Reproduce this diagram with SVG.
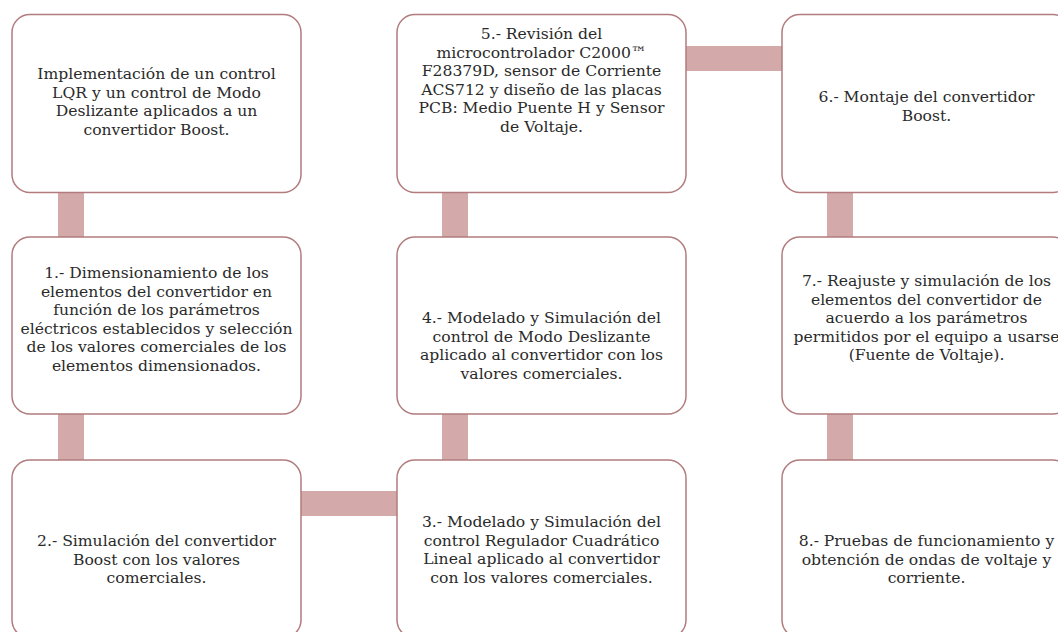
<svg xmlns="http://www.w3.org/2000/svg" width="1058" height="632" viewBox="0 0 1058 632">
<style>
.box{fill:#ffffff;stroke:#b27c7e;stroke-width:1.5}
.con{fill:#d3a9aa}
.t{font-family:'DejaVu Serif','Liberation Serif',serif;font-size:15.6px;fill:#2a2a2a;text-anchor:middle}
</style>
<rect width="1058" height="632" fill="#ffffff"/>
<g id="connectors">
<rect class="con" x="58" y="192" width="26" height="46"/>
<rect class="con" x="58" y="413" width="26" height="48"/>
<rect class="con" x="300" y="491" width="98" height="25"/>
<rect class="con" x="442" y="413" width="26" height="48"/>
<rect class="con" x="442" y="192" width="26" height="46"/>
<rect class="con" x="685" y="46" width="98" height="25"/>
<rect class="con" x="827" y="192" width="26" height="46"/>
<rect class="con" x="827" y="413" width="26" height="48"/>
</g>
<g id="node-intro" font-family="DejaVu Serif, serif">
<rect class="box" x="12" y="14.5" width="289" height="178" rx="18"/>
<text class="t" x="156.5" y="79"><tspan x="156.5">Implementación de un control</tspan><tspan x="156.5" dy="18.5">LQR y un control de Modo</tspan><tspan x="156.5" dy="18.5">Deslizante aplicados a un</tspan><tspan x="156.5" dy="18.5">convertidor Boost.</tspan></text>
</g>
<g id="node-1" font-family="DejaVu Serif, serif">
<rect class="box" x="12" y="237" width="289" height="177" rx="18"/>
<text class="t" x="156.5" y="278"><tspan x="156.5">1.- Dimensionamiento de los</tspan><tspan x="156.5" dy="18.5">elementos del convertidor en</tspan><tspan x="156.5" dy="18.5">función de los parámetros</tspan><tspan x="156.5" dy="18.5">eléctricos establecidos y selección</tspan><tspan x="156.5" dy="18.5">de los valores comerciales de los</tspan><tspan x="156.5" dy="18.5">elementos dimensionados.</tspan></text>
</g>
<g id="node-2" font-family="DejaVu Serif, serif">
<rect class="box" x="12" y="460" width="289" height="178" rx="18"/>
<text class="t" x="156.5" y="546"><tspan x="156.5">2.- Simulación del convertidor</tspan><tspan x="156.5" dy="18.5">Boost con los valores</tspan><tspan x="156.5" dy="18.5">comerciales.</tspan></text>
</g>
<g id="node-3" font-family="DejaVu Serif, serif">
<rect class="box" x="397" y="460" width="289" height="178" rx="18"/>
<text class="t" x="541.5" y="527"><tspan x="541.5">3.- Modelado y Simulación del</tspan><tspan x="541.5" dy="18.5">control Regulador Cuadrático</tspan><tspan x="541.5" dy="18.5">Lineal aplicado al convertidor</tspan><tspan x="541.5" dy="18.5">con los valores comerciales.</tspan></text>
</g>
<g id="node-4" font-family="DejaVu Serif, serif">
<rect class="box" x="397" y="237" width="289" height="177" rx="18"/>
<text class="t" x="541.5" y="323"><tspan x="541.5">4.- Modelado y Simulación del</tspan><tspan x="541.5" dy="18.5">control de Modo Deslizante</tspan><tspan x="541.5" dy="18.5">aplicado al convertidor con los</tspan><tspan x="541.5" dy="18.5">valores comerciales.</tspan></text>
</g>
<g id="node-5" font-family="DejaVu Serif, serif">
<rect class="box" x="397" y="14.5" width="289" height="178" rx="18"/>
<text class="t" x="541.5" y="39"><tspan x="541.5">5.- Revisión del</tspan><tspan x="541.5" dy="18.5">microcontrolador C2000™</tspan><tspan x="541.5" dy="18.5">F28379D, sensor de Corriente</tspan><tspan x="541.5" dy="18.5">ACS712 y diseño de las placas</tspan><tspan x="541.5" dy="18.5">PCB: Medio Puente H y Sensor</tspan><tspan x="541.5" dy="18.5">de Voltaje.</tspan></text>
</g>
<g id="node-6" font-family="DejaVu Serif, serif">
<rect class="box" x="782" y="14.5" width="289" height="178" rx="18"/>
<text class="t" x="926.5" y="102"><tspan x="926.5">6.- Montaje del convertidor</tspan><tspan x="926.5" dy="18.5">Boost.</tspan></text>
</g>
<g id="node-7" font-family="DejaVu Serif, serif">
<rect class="box" x="782" y="237" width="289" height="177" rx="18"/>
<text class="t" x="926.5" y="286"><tspan x="926.5">7.- Reajuste y simulación de los</tspan><tspan x="926.5" dy="18.5">elementos del convertidor de</tspan><tspan x="926.5" dy="18.5">acuerdo a los parámetros</tspan><tspan x="926.5" dy="18.5">permitidos por el equipo a usarse</tspan><tspan x="926.5" dy="18.5">(Fuente de Voltaje).</tspan></text>
</g>
<g id="node-8" font-family="DejaVu Serif, serif">
<rect class="box" x="782" y="460" width="289" height="178" rx="18"/>
<text class="t" x="926.5" y="546"><tspan x="926.5">8.- Pruebas de funcionamiento y</tspan><tspan x="926.5" dy="18.5">obtención de ondas de voltaje y</tspan><tspan x="926.5" dy="18.5">corriente.</tspan></text>
</g>
</svg>
